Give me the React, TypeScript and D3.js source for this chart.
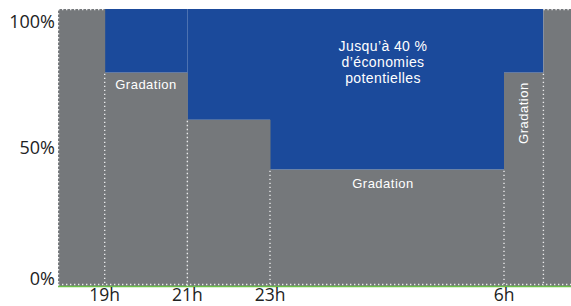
import React from 'react';
import * as d3 from 'd3';

// time slots (hours, 30 = 6h next day) and the lighting level kept in each slot
const slotStart = [17.87, 19, 21, 23, 30, 31];
const slotEnd = [19, 21, 23, 30, 31, 31.7];
const grayLevel = [100, 77, 60, 42, 77, 100];

const hourTicks = [19, 21, 23, 30];
const hourLabels = ['19h', '21h', '23h', '6h'];

const pctTicks = [0, 50, 100];
const pctLabels = ['0%', '50%', '100%'];

const savingsLines = ['Jusqu\u2019à 40 %', 'd\u2019économies', 'potentielles'];

const W = 571;
const H = 306;
const GRAY = '#75787b';
const BLUE = '#1b4a9b';
const FONT = '"Open Sans", "DejaVu Sans", sans-serif';
const NOTE_FONT = '"Liberation Sans", Arial, sans-serif';

export default function App() {
  const x = d3.scaleLinear().domain([17.87, 23, 30, 31.7]).range([58, 270, 504, 571]);
  const y = d3.scaleLinear().domain([0, 100]).range([286, 9]);

  const slots = slotStart.map((s, i) => ({ s, e: slotEnd[i], lvl: grayLevel[i] }));

  // dotted dividers start at the lower of the two neighbouring levels
  const dividers = slotStart.slice(1).map((h, i) => ({
    h,
    lvl: Math.min(grayLevel[i], grayLevel[i + 1]),
  }));

  const dot = { stroke: '#fff', strokeWidth: 1.4, strokeDasharray: '1.4 2.6', opacity: 0.85 };
  const note = { fontFamily: NOTE_FONT, fontSize: 13, letterSpacing: 0.5, fill: '#fff', textAnchor: 'middle' as const };
  const midNight = (x(23) + x(30)) / 2 - 4;

  return (
    <div style={{ position: 'fixed', left: 0, top: 0, width: W, height: H, background: '#fff' }}>
      <svg width={W} height={H} style={{ display: 'block' }}>
        {/* blue savings area above the gray level */}
        {slots.map((d, i) => (
          <rect key={'b' + i} x={x(d.s)} y={y(100)} width={x(d.e) - x(d.s)} height={y(d.lvl) - y(100)} fill={BLUE} />
        ))}
        {slots.map((d, i) => (
          <rect key={'g' + i} x={x(d.s)} y={y(d.lvl)} width={x(d.e) - x(d.s) + 0.5} height={y(0) - y(d.lvl)} fill={GRAY} />
        ))}

        {/* dotted dividers */}
        <line x1={x(slotStart[0]) + 0.5} x2={x(slotStart[0]) + 0.5} y1={y(100)} y2={y(0)} {...dot} />
        <line x1={x(slotStart[0])} x2={x(19)} y1={y(100) + 0.5} y2={y(100) + 0.5} {...dot} />
        <line x1={x(31)} x2={x(31.7)} y1={y(100) + 0.5} y2={y(100) + 0.5} {...dot} />
        {dividers.map((d, i) => (
          <line key={'d' + i} x1={x(d.h)} x2={x(d.h)} y1={y(d.lvl) + 1} y2={y(0)} {...dot} />
        ))}
        <line x1={x(slotStart[0])} x2={W} y1={y(0) - 1.5} y2={y(0) - 1.5} {...dot} />
        <line x1={x(slotStart[0])} x2={W} y1={y(0) + 0.5} y2={y(0) + 0.5} stroke="#6cc04a" strokeWidth={1.5} />

        {/* percent axis labels */}
        {pctTicks.map((v, i) => (
          <text key={'p' + i} x={55} y={Math.min(Math.max(y(v), 22), 279)} dy="0.35em" textAnchor="end"
            fontFamily={FONT} fontSize={18} fill="#222">{pctLabels[i]}</text>
        ))}

        {/* hour labels */}
        {hourTicks.map((h, i) => (
          <text key={'h' + i} x={x(h)} y={301} textAnchor="middle" fontFamily={FONT} fontSize={17.5} fill="#222">
            {hourLabels[i]}
          </text>
        ))}

        {/* in-chart annotations */}
        <text x={(x(19) + x(21)) / 2} y={y(77) + 16} {...note}>Gradation</text>
        <text x={midNight} y={y(42) + 18} {...note}>Gradation</text>
        <text transform={`translate(${(x(30) + x(31)) / 2 + 4},${(y(77) + y(42)) / 2 - 8}) rotate(-90)`} {...note}>Gradation</text>
        {savingsLines.map((t, i) => (
          <text key={'s' + i} x={midNight} y={51 + i * 16} {...note} fontSize={14} letterSpacing={0.4}>{t}</text>
        ))}
      </svg>
    </div>
  );
}
